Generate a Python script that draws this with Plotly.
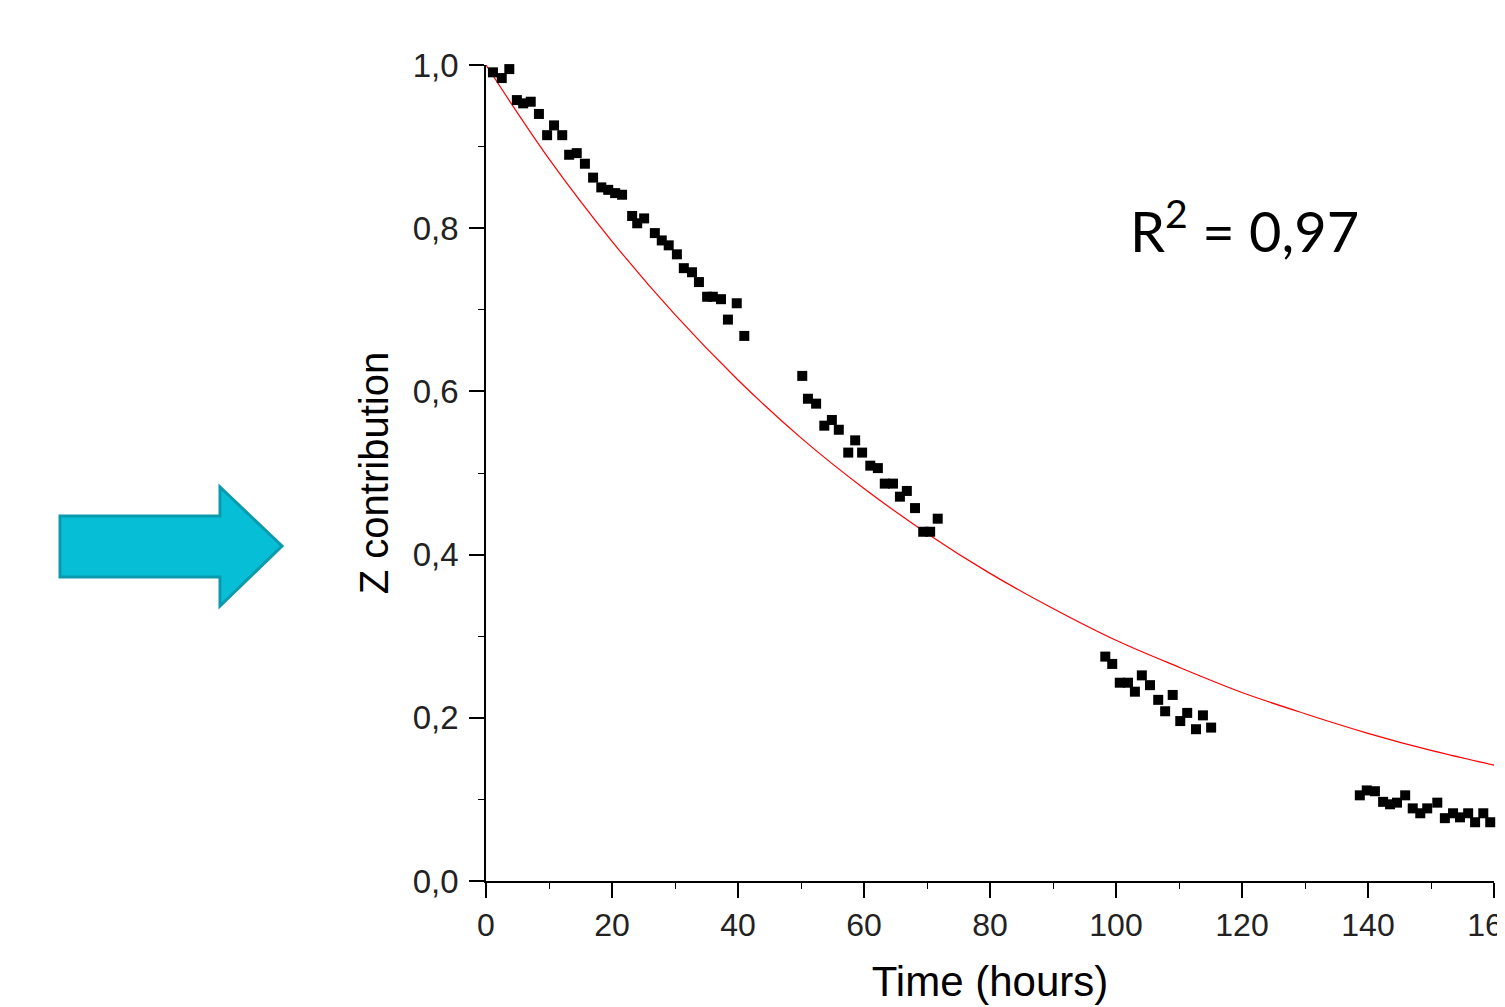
import plotly.graph_objects as go

# ---- data ----
time_h = [1.1, 2.5, 3.7, 4.9, 5.9, 7.1, 8.4, 9.7, 10.8, 12.1, 13.2, 14.4, 15.7, 17.0, 18.3, 19.4,
          20.5, 21.6, 23.2, 24.0, 25.1, 26.8, 27.9, 29.0, 30.3, 31.4, 32.7, 33.8, 35.1, 36.0, 37.3,
          38.4, 39.8, 41.0,
          50.2, 51.1, 52.4, 53.7, 54.9, 56.0, 57.5, 58.6, 59.7, 61.0, 62.2, 63.3, 64.6, 65.7, 66.8,
          68.1, 69.4, 70.5, 71.7,
          98.3, 99.4, 100.6, 101.9, 103.0, 104.1, 105.4, 106.7, 107.8, 109.0, 110.2, 111.3, 112.7,
          113.8, 115.1,
          138.7, 139.8, 141.1, 142.4, 143.5, 144.6, 145.9, 147.1, 148.3, 149.4, 151.0, 152.2, 153.5,
          154.6, 155.9, 157.0, 158.3, 159.4]
z_contrib = [0.991, 0.984, 0.995, 0.957, 0.953, 0.955, 0.940, 0.914, 0.926, 0.914, 0.890, 0.892,
             0.879, 0.862, 0.850, 0.847, 0.843, 0.841, 0.815, 0.806, 0.812, 0.794, 0.785, 0.779,
             0.768, 0.751, 0.746, 0.734, 0.716, 0.716, 0.713, 0.688, 0.708, 0.668,
             0.619, 0.591, 0.585, 0.558, 0.565, 0.553, 0.525, 0.540, 0.525, 0.509, 0.506, 0.487,
             0.487, 0.471, 0.478, 0.457, 0.428, 0.428, 0.444,
             0.275, 0.266, 0.243, 0.243, 0.232, 0.252, 0.240, 0.222, 0.208, 0.228, 0.196, 0.206,
             0.186, 0.203, 0.188,
             0.105, 0.111, 0.110, 0.097, 0.094, 0.096, 0.105, 0.089, 0.083, 0.089, 0.096, 0.077,
             0.083, 0.078, 0.083, 0.072, 0.083, 0.072]

fit_time = [0, 10, 20, 30, 40, 50, 60, 70, 80, 90, 100, 110, 120, 130, 140, 150, 160]
fit_value = [1.0, 0.885, 0.784, 0.694, 0.614, 0.543, 0.481, 0.426, 0.377, 0.334, 0.295, 0.262,
             0.231, 0.205, 0.181, 0.160, 0.142]

x_ticks = [0, 20, 40, 60, 80, 100, 120, 140, 160]
y_ticks = [0.0, 0.2, 0.4, 0.6, 0.8, 1.0]

# ---- layout geometry (page has an 8px body margin) ----
OFF = 8
W, H = 1530, 1007
ML, MT = 478, 57
MR = W - 1486
MB = H - 873
PW, PH = W - ML - MR, H - MT - MB


def px(x_page):
    return (x_page - OFF - ML) / PW


def py(y_page):
    return (H - MB - (y_page - OFF)) / PH


fig = go.Figure()

fig.add_trace(go.Scatter(x=fit_time, y=fit_value, mode="lines",
                         line=dict(color="#ff0000", width=1.2, shape="spline"),
                         showlegend=False, hoverinfo="skip"))
fig.add_trace(go.Scatter(x=time_h, y=z_contrib, mode="markers",
                         marker=dict(symbol="square", size=10, color="black"),
                         showlegend=False, cliponaxis=False))

# cyan arrow (decoration)
arrow_pts = [(60, 516), (220, 516), (220, 487), (282, 546), (220, 606), (220, 577), (60, 577)]
path = "M " + " L ".join(f"{px(a):.5f},{py(b):.5f}" for a, b in arrow_pts) + " Z"
fig.add_shape(type="path", path=path, xref="paper", yref="paper",
              fillcolor="#06BED6", line=dict(color="#0A9AAD", width=3), layer="above")

fig.add_annotation(x=px(1244), y=py(227), xref="paper", yref="paper", showarrow=False,
                   text="R<sup>2</sup> = 0,97",
                   font=dict(family="Lato, Carlito, Calibri, sans-serif", size=56, color="black"),
                   xanchor="center", yanchor="middle")

ytickfont = dict(family="Liberation Sans, Arial, sans-serif", size=33, color="#222222")
xtickfont = dict(family="Liberation Sans, Arial, sans-serif", size=32, color="#222222")

fig.update_layout(
    width=W, height=H,
    margin=dict(l=ML, r=MR, t=MT, b=MB, autoexpand=False),
    paper_bgcolor="white", plot_bgcolor="white",
    separators=", ",
    xaxis=dict(range=[0, 160], tickvals=x_ticks, ticktext=[str(v) for v in x_ticks],
               showgrid=False, zeroline=False, showline=True, linecolor="black", linewidth=1.5,
               ticks="outside", ticklen=15, tickwidth=1.5, tickcolor="black",
               minor=dict(dtick=10, tick0=0, ticks="outside", ticklen=6, tickwidth=1.2,
                          tickcolor="black", showgrid=False),
               tickfont=xtickfont,
               title=dict(text="Time (hours)", standoff=24,
                          font=dict(family="Liberation Sans, Arial, sans-serif",
                                    size=42, color="black")),
               automargin=False),
    yaxis=dict(range=[0, 1.0], tickvals=y_ticks, tickformat=".1f",
               showgrid=False, zeroline=False, showline=True, linecolor="black", linewidth=1.5,
               ticks="outside", ticklen=15, tickwidth=1.5, tickcolor="black",
               minor=dict(dtick=0.1, tick0=0, ticks="outside", ticklen=6, tickwidth=1.2,
                          tickcolor="black", showgrid=False),
               tickfont=ytickfont, ticklabelstandoff=4,
               title=dict(text="Z contribution", standoff=12,
                          font=dict(family="Liberation Sans, Arial, sans-serif", size=40,
                                    color="black")),
               automargin=False),
)

fig.write_html("out.html")
